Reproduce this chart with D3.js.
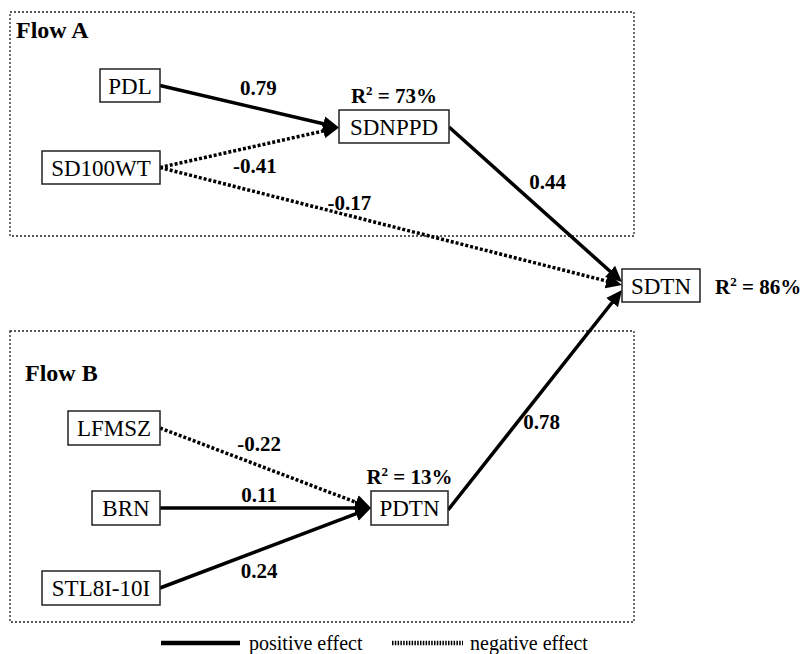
<!DOCTYPE html>
<html>
<head>
<meta charset="utf-8">
<script src="https://cdn.jsdelivr.net/npm/d3@7"></script>
<style>
  body { margin: 0; background: #fff; }
</style>
</head>
<body>
<svg width="803" height="654" font-family="'Liberation Serif', 'Times New Roman', Times, serif"></svg>
<script>
// path model data
var nodes = ["PDL", "SD100WT", "SDNPPD", "SDTN", "LFMSZ", "BRN", "STL8I-10I", "PDTN"];
var edgeFrom = ["PDL", "SD100WT", "SD100WT", "SDNPPD", "LFMSZ", "BRN", "STL8I-10I", "PDTN"];
var edgeTo   = ["SDNPPD", "SDNPPD", "SDTN", "SDTN", "PDTN", "PDTN", "PDTN", "SDTN"];
var coefs    = [0.79, -0.41, -0.17, 0.44, -0.22, 0.11, 0.24, 0.78];
var r2Nodes  = ["SDNPPD", "SDTN", "PDTN"];
var r2Values = [73, 86, 13];
var flows    = ["Flow A", "Flow B"];
var legendLabels = ["positive effect", "negative effect"];

// layout (boxes: x0, x1, y0, y1)
var box = {
  "PDL":       [100, 160, 69, 102],
  "SD100WT":   [42, 160, 151, 184],
  "SDNPPD":    [339, 449, 110, 143],
  "SDTN":      [622, 700, 269, 302],
  "LFMSZ":     [68, 160, 411, 445],
  "BRN":       [92, 160, 491, 525],
  "STL8I-10I": [42, 160, 571, 605],
  "PDTN":      [371, 448, 491, 525]
};
// per edge: source y shift, target y shift, label t along edge, label dx, dy
var edgeGeom = [
  [0, 1, 0.55, 0, -14],
  [0, 1, 0.53, 0, 27],
  [0, -0.5, 0.41, 0, -6],
  [0.5, -3.5, 0.35, 38, 8],
  [0, 0, 0.47, 0, -15],
  [0, 0, 0.47, 0, -6],
  [0, 0, 0.47, 0, 28],
  [2, 4.5, 0.4, 24, 7]
];
var flowBoxes = [[10, 634, 12, 236], [10, 634, 331, 622]];
var flowLabelPos = [[16, 38], [25, 381]];

var svg = d3.select("svg");
var defs = svg.append("defs");
defs.append("marker")
    .attr("id", "arrow")
    .attr("viewBox", "0 -8 16 16")
    .attr("refX", 1)
    .attr("refY", 0)
    .attr("markerWidth", 16)
    .attr("markerHeight", 16)
    .attr("markerUnits", "userSpaceOnUse")
    .attr("orient", "auto")
  .append("path")
    .attr("d", "M0,-7.5L16,0L0,7.5Z")
    .attr("fill", "#000");

function mid(n) { return (box[n][2] + box[n][3]) / 2; }

// flow frames
svg.selectAll(".flow")
    .data(flows)
    .enter()
    .append("rect")
      .attr("x", (d, i) => flowBoxes[i][0])
      .attr("y", (d, i) => flowBoxes[i][2])
      .attr("width", (d, i) => flowBoxes[i][1] - flowBoxes[i][0])
      .attr("height", (d, i) => flowBoxes[i][3] - flowBoxes[i][2])
      .attr("fill", "none")
      .attr("stroke", "#222")
      .attr("stroke-width", 1.3)
      .attr("stroke-dasharray", "2,2");

svg.selectAll(".flowLabel")
    .data(flows)
    .enter()
    .append("text")
      .attr("x", (d, i) => flowLabelPos[i][0])
      .attr("y", (d, i) => flowLabelPos[i][1])
      .attr("font-size", 24)
      .attr("font-weight", "bold")
      .text(d => d);

// edges
var edges = coefs.map((c, i) => {
  var s = edgeFrom[i], t = edgeTo[i], g = edgeGeom[i];
  var x1 = box[s][1], y1 = mid(s) + g[0];
  var x2 = box[t][0], y2 = mid(t) + g[1];
  var len = Math.hypot(x2 - x1, y2 - y1);
  var k = (len - 15) / len;
  return {coef: c, x1: x1, y1: y1, x2: x2, y2: y2,
          ex: x1 + (x2 - x1) * k, ey: y1 + (y2 - y1) * k,
          lx: x1 + (x2 - x1) * g[2] + g[3], ly: y1 + (y2 - y1) * g[2] + g[4]};
});

svg.selectAll(".edge")
    .data(edges)
    .enter()
    .append("line")
      .attr("x1", d => d.x1)
      .attr("y1", d => d.y1)
      .attr("x2", d => d.ex)
      .attr("y2", d => d.ey)
      .attr("stroke", "#000")
      .attr("stroke-width", 3.5)
      .attr("stroke-dasharray", d => d.coef < 0 ? "3,2" : null)
      .attr("marker-end", "url(#arrow)");

svg.selectAll(".coef")
    .data(edges)
    .enter()
    .append("text")
      .attr("x", d => d.lx)
      .attr("y", d => d.ly)
      .attr("text-anchor", "middle")
      .attr("font-size", 21)
      .attr("font-weight", "bold")
      .text(d => d.coef.toFixed(2));

// nodes
var ng = svg.selectAll(".node")
    .data(nodes)
    .enter()
    .append("g");
ng.append("rect")
    .attr("x", d => box[d][0])
    .attr("y", d => box[d][2])
    .attr("width", d => box[d][1] - box[d][0])
    .attr("height", d => box[d][3] - box[d][2])
    .attr("fill", "#fff")
    .attr("stroke", "#222")
    .attr("stroke-width", 1.5);
ng.append("text")
    .attr("x", d => (box[d][0] + box[d][1]) / 2)
    .attr("y", d => mid(d) + 8)
    .attr("text-anchor", "middle")
    .attr("font-size", 23)
    .text(d => d);

// R squared
var r2 = svg.selectAll(".r2")
    .data(r2Nodes)
    .enter()
    .append("text")
      .attr("x", d => d === "SDTN" ? box[d][1] + 15 : (box[d][0] + box[d][1]) / 2)
      .attr("y", d => d === "SDTN" ? mid(d) + 8 : box[d][2] - 7)
      .attr("text-anchor", d => d === "SDTN" ? "start" : "middle")
      .attr("font-size", 21)
      .attr("font-weight", "bold");
r2.append("tspan").text("R");
r2.append("tspan").attr("font-size", 13).attr("dy", -8).text("2");
r2.append("tspan").attr("dy", 8).text((d, i) => " = " + r2Values[i] + "%");

// legend
var legend = svg.selectAll(".legend")
    .data(legendLabels)
    .enter()
    .append("g")
      .attr("transform", (d, i) => "translate(" + (161 + i * 231) + ",643)");
legend.append("line")
    .attr("x1", 0)
    .attr("x2", (d, i) => i ? 71 : 79)
    .attr("stroke", "#000")
    .attr("stroke-width", 4.5)
    .attr("stroke-dasharray", (d, i) => i ? "1.5,1.3" : null);
legend.append("text")
    .attr("x", (d, i) => i ? 78 : 88)
    .attr("y", 7)
    .attr("font-size", 20)
    .text(d => d);
</script>
</body>
</html>
